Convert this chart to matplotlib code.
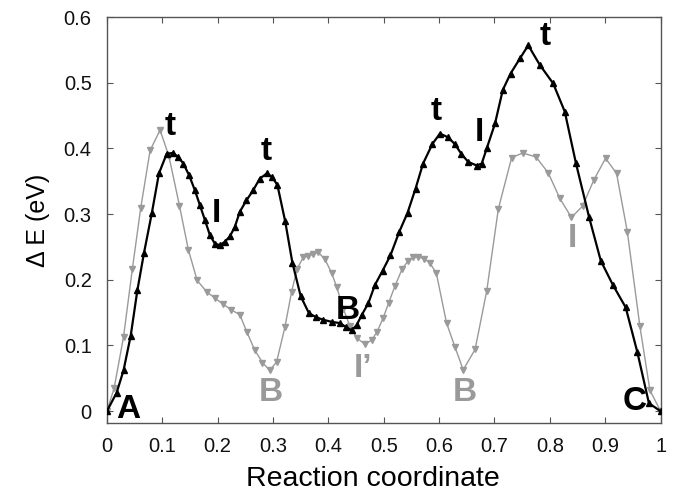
import numpy as np
import matplotlib.pyplot as plt
from matplotlib.ticker import FuncFormatter, MultipleLocator

plt.rcParams['font.family'] = ['Liberation Sans', 'DejaVu Sans']

# --- black path (triangle-up markers) ---
black_x = [0.0, 0.0175, 0.030, 0.043, 0.055, 0.067, 0.081, 0.094, 0.108, 0.119,
           0.129, 0.138, 0.1486, 0.159, 0.168, 0.177, 0.186, 0.195, 0.204, 0.213,
           0.222, 0.231, 0.240, 0.252, 0.264, 0.276, 0.289, 0.299, 0.308, 0.322,
           0.335, 0.350, 0.365, 0.378, 0.391, 0.406, 0.421, 0.432, 0.442, 0.451,
           0.460, 0.472, 0.484, 0.498, 0.512, 0.528, 0.543, 0.5575, 0.571, 0.588,
           0.6015, 0.616, 0.628, 0.640, 0.6525, 0.668, 0.677, 0.686, 0.701, 0.715,
           0.729, 0.746, 0.761, 0.782, 0.806, 0.827, 0.847, 0.871, 0.892, 0.914,
           0.937, 0.958, 0.979, 1.0]
black_y = [0.0, 0.028, 0.062, 0.115, 0.184, 0.241, 0.301, 0.362, 0.392, 0.393,
           0.387, 0.377, 0.359, 0.336, 0.3135, 0.291, 0.268, 0.255, 0.2527, 0.258,
           0.266, 0.2805, 0.3035, 0.321, 0.336, 0.354, 0.362, 0.356, 0.344, 0.289,
           0.226, 0.175, 0.149, 0.143, 0.139, 0.136, 0.134, 0.128, 0.123, 0.131,
           0.146, 0.164, 0.192, 0.214, 0.237, 0.273, 0.302, 0.339, 0.377, 0.407,
           0.4226, 0.417, 0.407, 0.392, 0.3795, 0.374, 0.377, 0.400, 0.438, 0.489,
           0.514, 0.537, 0.557, 0.527, 0.499, 0.456, 0.378, 0.295, 0.229, 0.192,
           0.158, 0.090, 0.012, 0.0]

# --- grey path (triangle-down markers) ---
grey_x = [0.0, 0.013, 0.030, 0.046, 0.061, 0.078, 0.096, 0.112, 0.131, 0.147,
          0.163, 0.180, 0.195, 0.210, 0.225, 0.240, 0.253, 0.267, 0.281, 0.294,
          0.3065, 0.3215, 0.3336, 0.3437, 0.3545, 0.3636, 0.3726, 0.3817, 0.394, 0.406,
          0.415, 0.427, 0.439, 0.452, 0.466, 0.478, 0.488, 0.499, 0.509, 0.520,
          0.533, 0.544, 0.553, 0.562, 0.5725, 0.583, 0.595, 0.6135, 0.6285, 0.6435,
          0.665, 0.686, 0.707, 0.731, 0.751, 0.775, 0.797, 0.818, 0.839, 0.859,
          0.8795, 0.9007, 0.9205, 0.940, 0.9627, 0.9807, 1.0]
grey_y = [0.0, 0.035, 0.113, 0.217, 0.309, 0.397, 0.428, 0.388, 0.313, 0.246,
          0.199, 0.182, 0.172, 0.163, 0.154, 0.147, 0.120, 0.093, 0.074, 0.062,
          0.075, 0.128, 0.182, 0.217, 0.234, 0.236, 0.239, 0.242, 0.231, 0.210,
          0.189, 0.156, 0.129, 0.111, 0.102, 0.108, 0.121, 0.142, 0.165, 0.190,
          0.216, 0.229, 0.234, 0.235, 0.232, 0.226, 0.210, 0.134, 0.098, 0.063,
          0.094, 0.183, 0.308, 0.386, 0.393, 0.387, 0.363, 0.324, 0.295, 0.312,
          0.352, 0.385, 0.362, 0.273, 0.129, 0.032, 0.0]

# --- state labels ---
black_labels = ['t', 't', 'I', 't', 'I', 't', 'B', 'A', 'C']
black_lab_x = [0.114, 0.288, 0.198, 0.595, 0.672, 0.791, 0.436, 0.0385, 0.9536]
black_lab_y = [0.433, 0.395, 0.301, 0.456, 0.425, 0.570, 0.154, 0.003, 0.014]

grey_labels = ['B', "I\u2019", 'B', 'I']
grey_lab_x = [0.2955, 0.463, 0.6466, 0.841]
grey_lab_y = [0.029, 0.065, 0.029, 0.263]

GREY = '#9a9a9a'

fig = plt.figure(figsize=(6.81, 4.95), dpi=100)
ax = fig.add_axes([0.157, 0.1455, 0.813, 0.820])

ax.plot(grey_x, grey_y, color=GREY, lw=1.0, marker='v', ms=5,
        markerfacecolor=GREY, markeredgecolor=GREY, zorder=2)
ax.plot(black_x, black_y, color='black', lw=1.6, marker='^', ms=4.5,
        markerfacecolor='black', markeredgecolor='black', zorder=3)

for lab, x, y in zip(black_labels, black_lab_x, black_lab_y):
    ax.text(x, y, lab, fontsize=24, fontweight='bold', color='black',
            ha='center', va='center', zorder=4)
for lab, x, y in zip(grey_labels, grey_lab_x, grey_lab_y):
    ax.text(x, y, lab, fontsize=24, fontweight='bold', color=GREY,
            ha='center', va='center', zorder=4)

ax.set_xlim(0, 1)
ax.set_ylim(-0.018, 0.6)
ax.xaxis.set_major_locator(MultipleLocator(0.1))
ax.yaxis.set_major_locator(MultipleLocator(0.1))
fmt = FuncFormatter(lambda v, p: '%g' % round(v, 2))
ax.xaxis.set_major_formatter(fmt)
ax.yaxis.set_major_formatter(fmt)

ax.tick_params(direction='in', length=4, width=0.8, color='#555555',
               top=True, right=True, labelsize=14.5, labelcolor='#111111')
ax.tick_params(axis='x', pad=10)
ax.tick_params(axis='y', pad=11)
for sp in ax.spines.values():
    sp.set_color('#555555')
    sp.set_linewidth(1.0)

ax.set_xlabel('Reaction coordinate', fontsize=20.5)
ax.xaxis.set_label_coords(0.48, -0.105)
ax.set_ylabel('\u0394 E (eV)', fontsize=18, labelpad=10)

fig.savefig('out.png', dpi=100)
